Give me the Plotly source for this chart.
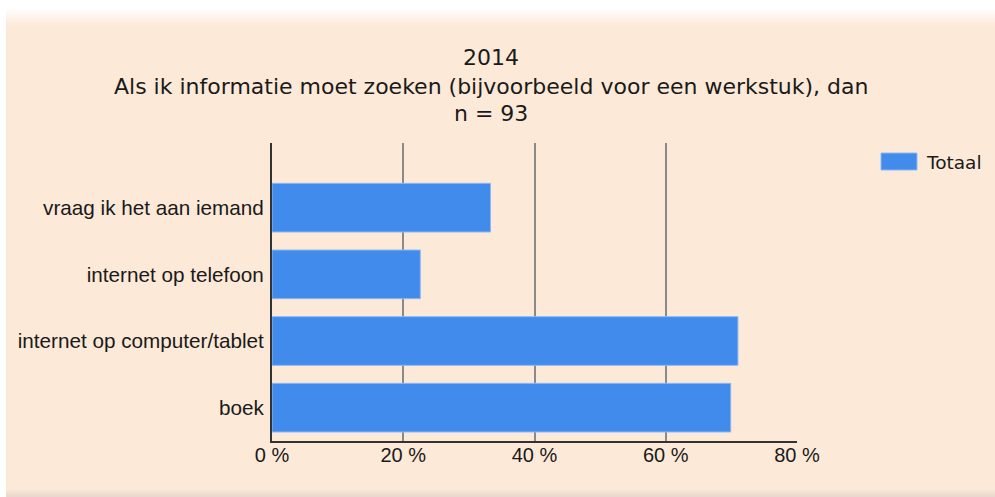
import plotly.graph_objects as go

# Survey answers (n = 93), share of respondents in percent
categories = [
    "vraag ik het aan iemand",
    "internet op telefoon",
    "internet op computer/tablet",
    "boek",
]
values = [33.3, 22.6, 71.0, 69.9]
series_name = "Totaal"

title_lines = [
    "2014",
    "Als ik informatie moet zoeken (bijvoorbeeld voor een werkstuk), dan",
    "n = 93",
]

x_tick_vals = [0, 20, 40, 60, 80]
x_tick_text = ["0 %", "20 %", "40 %", "60 %", "80 %"]

W, H = 995, 497
L, R, T, B = 272, 198, 143, 56
PW, PH = W - L - R, H - T - B

PEACH = "#FDE9D8"
PLOT_BG = "#FFFAF5"
BAR = "#418BEC"
BAR_EDGE = "#8DB9F2"
TEXT = "#1a1a1a"


def px_x(px):
    return (px - L) / PW


def px_y(py):
    return (H - B - py) / PH


fig = go.Figure(
    go.Bar(
        x=values,
        y=categories,
        orientation="h",
        name=series_name,
        marker=dict(color=BAR, line=dict(color=BAR_EDGE, width=1)),
        showlegend=False,
    )
)

shapes = []
# peach panel behind the chart
shapes.append(dict(type="rect", xref="paper", yref="paper", layer="below",
                   x0=px_x(6), x1=px_x(W + 2), y0=px_y(490), y1=px_y(24),
                   fillcolor=PEACH, line=dict(width=0)))
# soft fade at the top edge of the panel
top_rgb = (253, 233, 216)
steps = 8
for i in range(steps):
    f = (i + 1) / (steps + 1)
    c = tuple(round(255 + (t - 255) * f) for t in top_rgb)
    y0 = 9 + i * 2
    shapes.append(dict(type="rect", xref="paper", yref="paper", layer="below",
                       x0=px_x(6), x1=px_x(W + 2), y0=px_y(y0 + 2), y1=px_y(y0),
                       fillcolor="rgb(%d,%d,%d)" % c, line=dict(width=0)))
# darker shade along the bottom edge
bot = [(248, 228, 212), (242, 224, 209), (236, 220, 206), (232, 218, 206)]
for i, c in enumerate(bot):
    y0 = 490 + i * 2
    shapes.append(dict(type="rect", xref="paper", yref="paper", layer="below",
                       x0=px_x(6), x1=px_x(W + 2), y0=px_y(y0 + 2), y1=px_y(y0),
                       fillcolor="rgb(%d,%d,%d)" % c, line=dict(width=0)))
# legend swatch
shapes.append(dict(type="rect", xref="paper", yref="paper",
                   x0=px_x(881), x1=px_x(917), y0=px_y(170), y1=px_y(153),
                   fillcolor=BAR, line=dict(color=BAR_EDGE, width=1)))

annotations = []
# three-line heading
for text, yc in zip(title_lines, [57, 86, 113]):
    annotations.append(dict(text=text, xref="paper", yref="paper",
                            x=px_x(491), y=px_y(yc), xanchor="center", yanchor="middle",
                            showarrow=False,
                            font=dict(family="DejaVu Sans", size=22, color=TEXT)))
# legend label
annotations.append(dict(text=series_name, xref="paper", yref="paper",
                        x=px_x(924), y=px_y(162), xanchor="left", yanchor="middle",
                        showarrow=False,
                        font=dict(family="DejaVu Sans", size=18.5, color=TEXT)))

fig.update_layout(
    width=W,
    height=H,
    margin=dict(l=L, r=R, t=T, b=B),
    paper_bgcolor="white",
    plot_bgcolor=PLOT_BG,
    bargap=0.27,
    shapes=shapes,
    annotations=annotations,
    xaxis=dict(
        range=[0, 80],
        tickvals=x_tick_vals,
        ticktext=x_tick_text,
        showgrid=True,
        gridcolor="#8a8a8a",
        gridwidth=1.5,
        showline=True,
        linecolor="#333333",
        linewidth=2,
        zeroline=False,
        ticks="",
        ticklabelstandoff=-5,
        tickfont=dict(family="Liberation Sans", size=20, color=TEXT),
        fixedrange=True,
    ),
    yaxis=dict(
        categoryorder="array",
        categoryarray=categories[::-1],
        range=[-0.5, 3.97],
        showline=True,
        linecolor="#333333",
        linewidth=2,
        showgrid=False,
        ticks="",
        ticklabelstandoff=2,
        tickfont=dict(family="Liberation Sans", size=20.7, color=TEXT),
        fixedrange=True,
    ),
)

fig.write_html("out.html")
